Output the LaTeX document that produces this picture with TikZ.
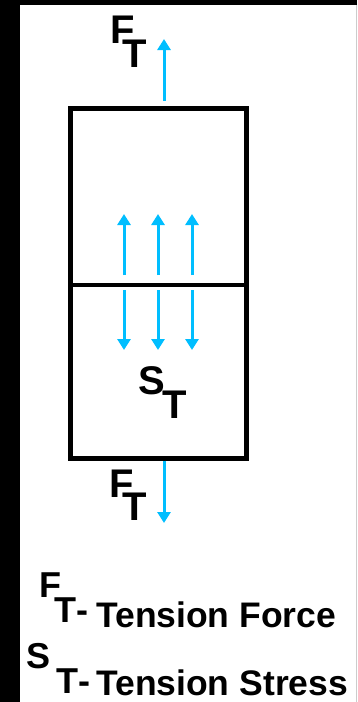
\documentclass[tikz,border=0pt]{standalone}
\usepackage{fontspec}
\setmainfont{Liberation Sans}
\usetikzlibrary{arrows.meta}
\definecolor{tensioncyan}{RGB}{0,190,255}
\newcommand{\lowsub}[3]{#1\hspace*{#2}\raisebox{-#3}{T}}

\begin{document}
\begin{tikzpicture}[x=1pt, y=-1pt,
	force/.style={line width=3pt, tensioncyan, -{Triangle[length=11pt,width=13pt]}},
	sym/.style={font=\bfseries\fontsize{40}{48}\selectfont, anchor=base west, inner sep=0pt},
	key/.style={font=\bfseries\fontsize{36}{43}\selectfont, anchor=base west, inner sep=0pt},
	keytext/.style={font=\bfseries\fontsize{35.5}{42}\selectfont, anchor=base west, inner sep=0pt}]
	% Frame
	\useasboundingbox (0,0) rectangle (357,702);
	\fill[black] (0,0) rectangle (357,702);
	\fill[white] (20,5) rectangle (355.5,702);
	\fill[black!20] (355.5,5) rectangle (357,702);
	% Bar and cut
	\node[draw, line width=5pt, minimum width=176pt, minimum height=350pt, inner sep=0pt] (bar) at (158,283) {};
	\coordinate (cutL) at (70,285);
	\coordinate (cutR) at (246,285);
	\draw[line width=4pt] (cutL) -- (cutR);
	% Tension forces
	\coordinate (topTip) at (164,39);
	\coordinate (botTip) at (164,523);
	\draw[force, shorten <=5pt] (topTip |- bar.north) -- (topTip);
	\draw[force] (botTip |- bar.south) -- (botTip);
	% Stresses on the cut
	\foreach \sx in {124,158,192} {
		\draw[force] (\sx,275) -- (\sx,214);
		\draw[force] (\sx,290) -- (\sx,350);
	}
	% Labels
	\node[sym] (ftop) at (110,43) {\lowsub{F}{-12.4pt}{24pt}};
	\node[sym] (stress) at (138,394) {\lowsub{S}{-2.7pt}{24pt}};
	\node[sym] (fbot) at (109,497) {\lowsub{F}{-11.4pt}{23pt}};
	% Key
	\node[key] (keyF) at (39,597) {\lowsub{F}{-7pt}{25pt}};
	\node[key] (keyFdash) at (76,622) {-};
	\node[keytext] (keyForce) at (96,627) {Tension Force};
	\node[key] (keyS) at (26.5,668) {\lowsub{S}{5.5pt}{25pt}};
	\node[key] (keySdash) at (78,693) {-};
	\node[keytext] (keyStress) at (96,695) {Tension Stress};
\end{tikzpicture}
\end{document}
